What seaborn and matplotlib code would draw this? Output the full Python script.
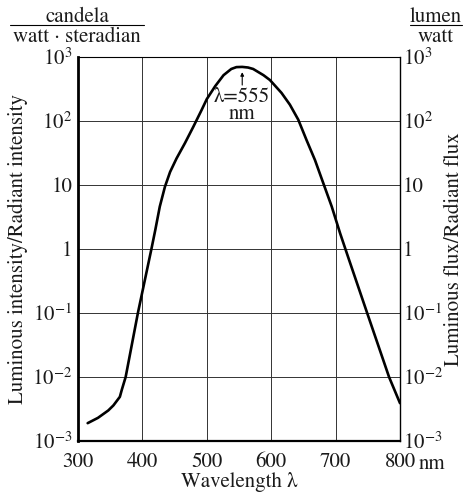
import matplotlib
matplotlib.use("Agg")
import matplotlib.pyplot as plt
import seaborn as sns
import pandas as pd

# Luminous efficacy of radiation versus wavelength
wavelength_nm = [315, 331, 347, 355, 365, 368, 374, 393, 414, 420, 427, 435,
                 443, 453, 466, 479, 492, 500, 513, 526, 538, 546, 555, 564,
                 572, 588, 598, 616, 629, 642, 655, 668, 681, 694, 707, 720,
                 749, 783, 800]
efficacy = [0.0019, 0.0023, 0.003, 0.0036, 0.0049, 0.0063, 0.01, 0.1, 1.0,
            1.98, 4.6, 9.4, 16, 26, 45, 81, 149, 220, 350, 520, 650, 695, 700,
            685, 650, 520, 437, 275, 180, 105, 50, 24.5, 10.6, 4.6, 1.76, 0.72,
            0.1, 0.01, 0.0039]

x_ticks = [300, 400, 500, 600, 700, 800]
x_tick_labels = ["300", "400", "500", "600", "700", "800"]
y_ticks = [1e-3, 1e-2, 1e-1, 1, 10, 1e2, 1e3]
y_tick_labels = [r"$10^{-3}$", r"$10^{-2}$", r"$10^{-1}$", "1", "10",
                 r"$10^{2}$", r"$10^{3}$"]
peak_wavelength = 555
peak_value = 700

df = pd.DataFrame({"wavelength": wavelength_nm, "efficacy": efficacy})

sns.set_style("white")
plt.rcParams["font.family"] = ["STIXGeneral", "DejaVu Serif"]
plt.rcParams["mathtext.fontset"] = "stix"

FS = 15
INK = "#1a1a1a"
W, H = 465, 495
fig = plt.figure(figsize=(W / 100, H / 100), dpi=100)
ax = fig.add_axes([78 / W, 1 - 441 / H, (400 - 78) / W, (441 - 57) / H])

sns.lineplot(data=df, x="wavelength", y="efficacy", ax=ax, color="black",
             linewidth=1.9, sort=False, estimator=None)
ax.set_yscale("log")
ax.set_xlim(300, 800)
ax.set_ylim(1e-3, 1e3)

ax.set_xticks(x_ticks)
ax.set_xticklabels(x_tick_labels)
ax.set_yticks(y_ticks)
ax.set_yticklabels(y_tick_labels)
ax.minorticks_off()
ax.tick_params(axis="y", length=0, labelsize=FS, pad=4, colors=INK)
ax.tick_params(axis="x", length=0, labelsize=FS, pad=8, colors=INK)
ax.grid(True, color="#333333", linewidth=0.7)
ax.set_xlabel("Wavelength λ", fontsize=FS, labelpad=0, color=INK)
ax.set_ylabel("Luminous intensity/Radiant intensity", fontsize=FS,
              labelpad=3, color=INK)

for side, lw in (("left", 2.0), ("bottom", 1.6), ("right", 1.0), ("top", 0.8)):
    ax.spines[side].set_visible(True)
    ax.spines[side].set_color("black")
    ax.spines[side].set_linewidth(lw)

ax2 = ax.twinx()
ax2.set_yscale("log")
ax2.set_ylim(1e-3, 1e3)
ax2.set_yticks(y_ticks)
ax2.set_yticklabels(y_tick_labels)
ax2.minorticks_off()
ax2.tick_params(length=0, labelsize=FS, pad=2, colors=INK)
ax2.set_ylabel("Luminous flux/Radiant flux", fontsize=FS, labelpad=1,
               color=INK)
for s in ax2.spines.values():
    s.set_visible(False)

# unit after the last wavelength tick
fig.text(419 / W, 1 - 464 / H, "nm", ha="left", va="center", fontsize=FS,
         color=INK)

# peak annotation
ax.annotate("", xy=(peak_wavelength, 640), xytext=(peak_wavelength, 330),
            arrowprops=dict(arrowstyle="-|>", color="black", lw=0.8,
                            mutation_scale=5))
ax.text(peak_wavelength, 175, "λ=555\nnm", ha="center", va="center",
        fontsize=FS, color=INK, linespacing=0.85)

# unit fractions above the axes
fig.text(77 / W, 1 - 17 / H, "candela", ha="center", va="center",
         fontsize=FS, color=INK)
fig.text(77 / W, 1 - 37 / H, "watt · steradian", ha="center", va="center",
         fontsize=FS, color=INK)
fig.add_artist(plt.Line2D([10 / W, 144 / W], [1 - 25 / H, 1 - 25 / H],
                          color="black", lw=0.8))
fig.text(436 / W, 1 - 17 / H, "lumen", ha="center", va="center",
         fontsize=FS, color=INK)
fig.text(436 / W, 1 - 37 / H, "watt", ha="center", va="center",
         fontsize=FS, color=INK)
fig.add_artist(plt.Line2D([410 / W, 462 / W], [1 - 25 / H, 1 - 25 / H],
                          color="black", lw=0.8))

fig.savefig("out.png", dpi=100)
